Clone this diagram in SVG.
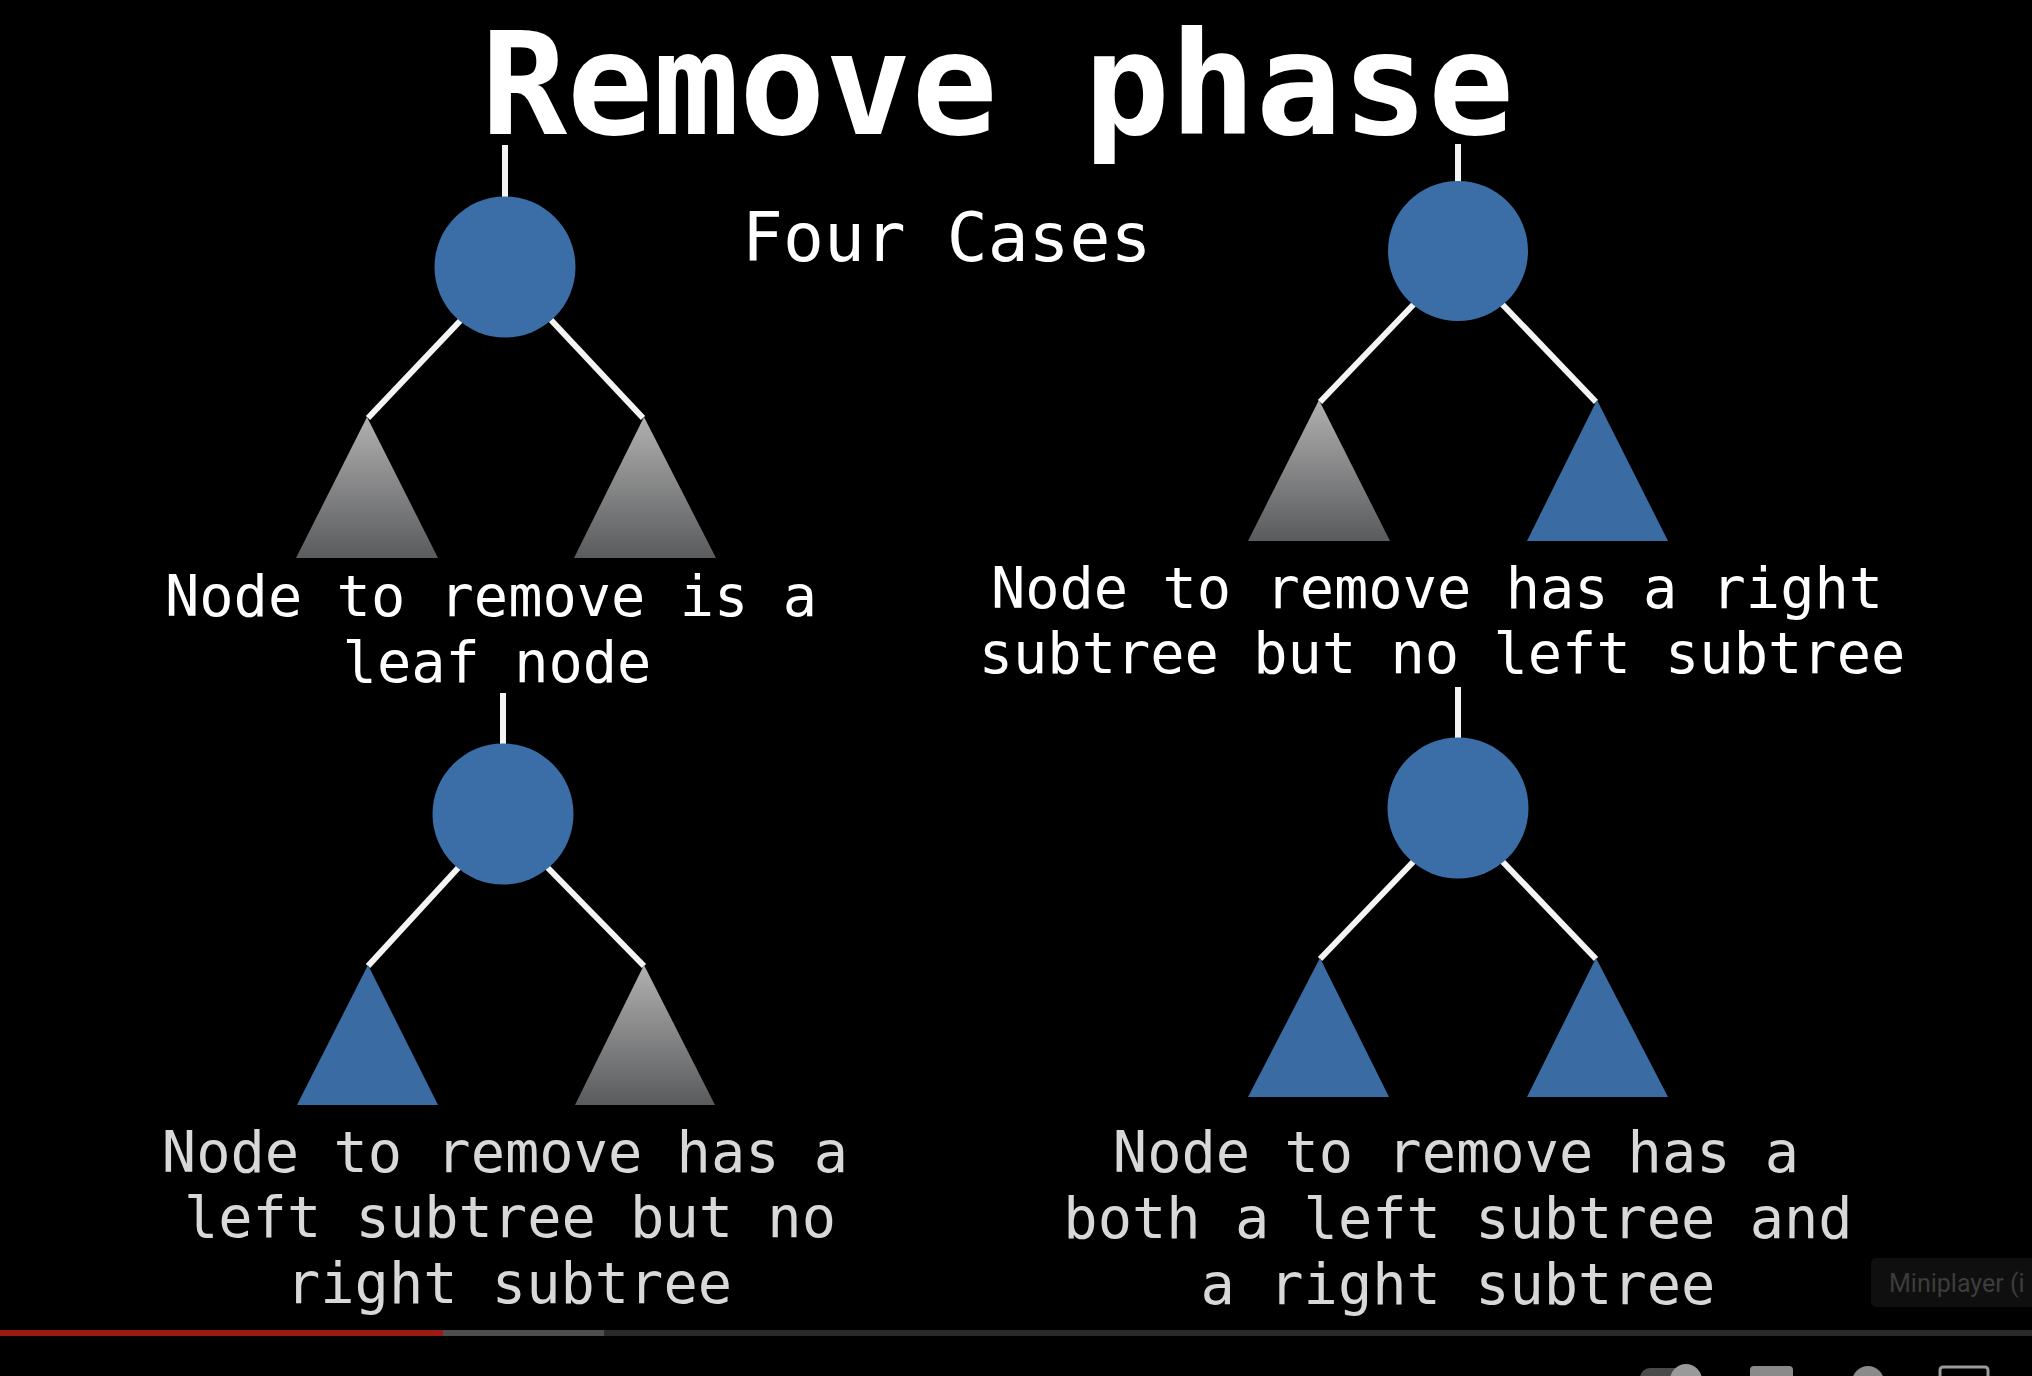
<svg xmlns="http://www.w3.org/2000/svg" width="2032" height="1376" viewBox="0 0 2032 1376">
<defs>
<linearGradient id="grayGrad" x1="0" y1="0" x2="0" y2="1">
<stop offset="0" stop-color="#b0b0b0"/>
<stop offset="1" stop-color="#5a5b5d"/>
</linearGradient>
<style>
.title{font-family:"DejaVu Sans Mono","Liberation Mono",monospace;font-weight:bold;font-size:143px;fill:#ffffff}
.sub{font-family:"DejaVu Sans Mono","Liberation Mono",monospace;font-size:68px;fill:#ffffff}
.lbl{font-family:"DejaVu Sans Mono","Liberation Mono",monospace;font-size:57px;fill:#ffffff;text-anchor:middle}
.lbl2{font-family:"DejaVu Sans Mono","Liberation Mono",monospace;font-size:57px;fill:#d8d8d8;text-anchor:middle}
.edge{stroke:#f4f4f4;stroke-width:6;fill:none}
.node{fill:#3b6ea6}
.blue{fill:#3a6ca3}
.gray{fill:url(#grayGrad)}
</style>
</defs>
<rect x="0" y="0" width="2032" height="1376" fill="#000000"/>

<text class="title" x="481" y="134">Remove phase</text>
<text class="sub" x="742" y="261">Four Cases</text>

<g id="connectors">
<line class="edge" x1="505" y1="145" x2="505" y2="198"/>
<line class="edge" x1="461" y1="320" x2="368" y2="418"/>
<line class="edge" x1="551" y1="320" x2="643" y2="418"/>

<line class="edge" x1="1458" y1="144" x2="1458" y2="183"/>
<line class="edge" x1="1414" y1="304" x2="1320" y2="402"/>
<line class="edge" x1="1502" y1="304" x2="1596" y2="402"/>

<line class="edge" x1="503" y1="693" x2="503" y2="745"/>
<line class="edge" x1="459" y1="867" x2="368" y2="966"/>
<line class="edge" x1="547" y1="867" x2="644" y2="966"/>

<line class="edge" x1="1458" y1="687" x2="1458" y2="739"/>
<line class="edge" x1="1414" y1="861" x2="1320" y2="959"/>
<line class="edge" x1="1502" y1="861" x2="1596" y2="959"/>
</g>

<g id="case-leaf">
<g id="n1-root"><circle class="node" cx="505" cy="267" r="70.5"/></g>
<g id="n1-left"><polygon class="gray" points="367,417 296,558 438,558"/></g>
<g id="n1-right"><polygon class="gray" points="644,417 574,558 716,558"/></g>
<g id="n1-label">
<text class="lbl" x="491" y="616">Node to remove is a</text>
<text class="lbl" x="497" y="682">leaf node</text>
</g>
</g>

<g id="case-right-only">
<g id="n2-root"><circle class="node" cx="1458" cy="251" r="70"/></g>
<g id="n2-left"><polygon class="gray" points="1319,400 1248,541 1390,541"/></g>
<g id="n2-right"><polygon class="blue" points="1597,400 1527,541 1668,541"/></g>
<g id="n2-label">
<text class="lbl" x="1437" y="608">Node to remove has a right</text>
<text class="lbl" x="1442" y="673">subtree but no left subtree</text>
</g>
</g>

<g id="case-left-only">
<g id="n3-root"><circle class="node" cx="503" cy="814" r="70.5"/></g>
<g id="n3-left"><polygon class="blue" points="368,965 297,1105 438,1105"/></g>
<g id="n3-right"><polygon class="gray" points="644,965 575,1105 715,1105"/></g>
<g id="n3-label">
<text class="lbl2" x="505" y="1172">Node to remove has a</text>
<text class="lbl2" x="510" y="1237">left subtree but no</text>
<text class="lbl2" x="509" y="1303">right subtree</text>
</g>
</g>

<g id="case-both">
<g id="n4-root"><circle class="node" cx="1458" cy="808" r="70.5"/></g>
<g id="n4-left"><polygon class="blue" points="1320,958 1248,1097 1389,1097"/></g>
<g id="n4-right"><polygon class="blue" points="1596,958 1527,1097 1668,1097"/></g>
<g id="n4-label">
<text class="lbl2" x="1456" y="1172">Node to remove has a</text>
<text class="lbl2" x="1458" y="1238">both a left subtree and</text>
<text class="lbl2" x="1458" y="1304">a right subtree</text>
</g>
</g>

<g id="player">
<rect x="1871" y="1258" width="170" height="49" rx="5" fill="#0f0f0f"/>
<text x="1889" y="1292" font-family="Roboto, 'Liberation Sans', sans-serif" font-size="25" fill="#3c3c3c">Miniplayer (i</text>
<rect x="0" y="1330" width="2032" height="6" fill="#2a2a2a"/>
<rect x="0" y="1330" width="604" height="6" fill="#4e4e4e"/>
<rect x="0" y="1330" width="443" height="6" fill="#9a1b14"/>
<rect x="1640" y="1368" width="60" height="20" rx="10" fill="#4a4a4a"/>
<circle cx="1686" cy="1380" r="16" fill="#9a9a9a"/>
<rect x="1750" y="1366" width="43" height="20" rx="4" fill="#8a8a8a"/>
<circle cx="1868" cy="1382" r="16" fill="#8a8a8a"/>
<rect x="1940" y="1367" width="48" height="20" rx="3" fill="none" stroke="#9a9a9a" stroke-width="3"/>
</g>
</svg>
